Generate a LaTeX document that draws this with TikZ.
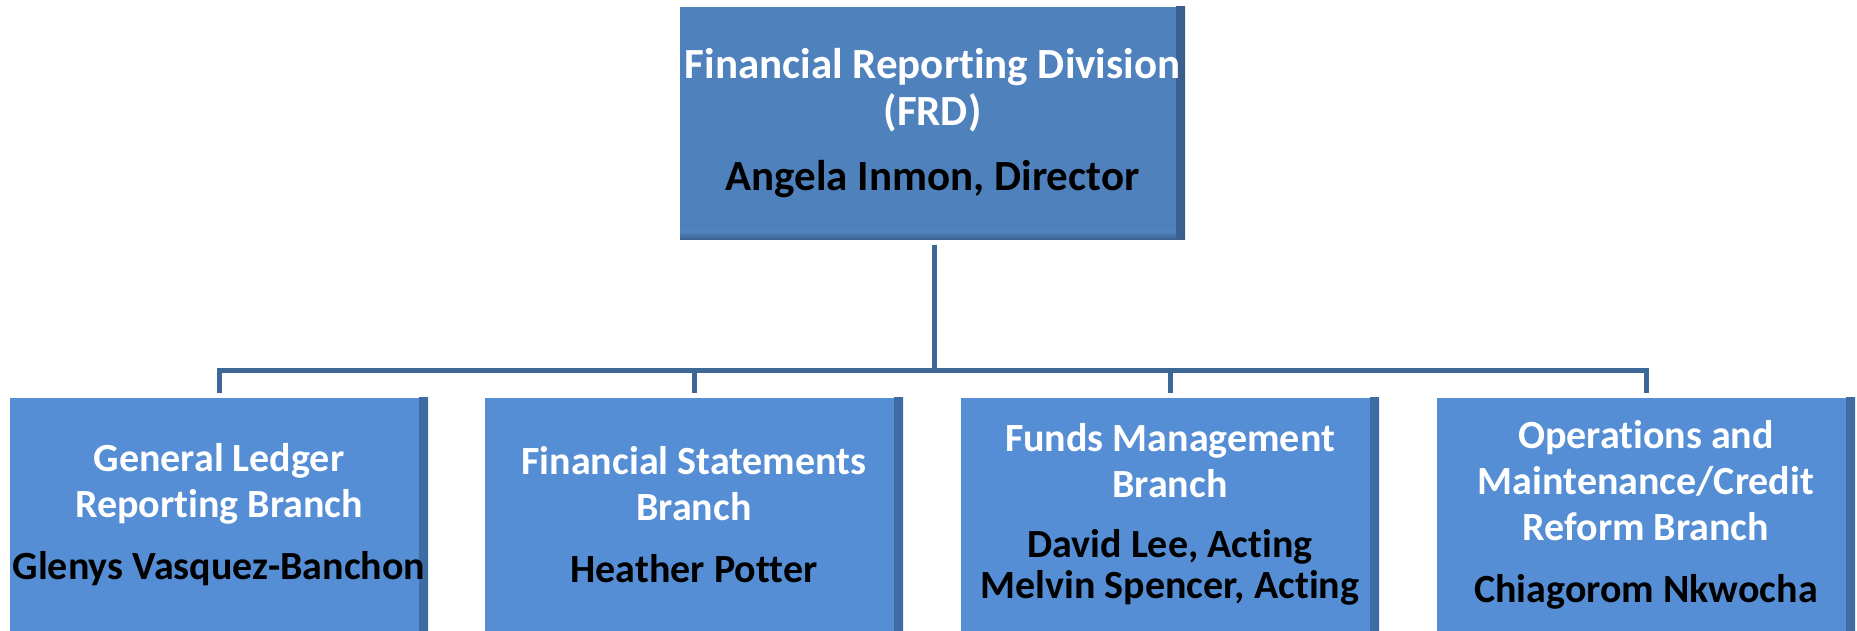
\documentclass[tikz,border=0pt]{standalone}
\usepackage{fontspec}
\setmainfont{Carlito}[RawFeature={-liga;-clig;-dlig;-calt}]
\definecolor{topfill}{HTML}{4F81BD}
\definecolor{topdark}{HTML}{3A5F8E}
\definecolor{boxfill}{HTML}{558ED5}
\definecolor{boxdark}{HTML}{3E6BA3}
\definecolor{linecol}{HTML}{3D6797}
\begin{document}
\begin{tikzpicture}[x=1pt,y=1pt,
  orgbox/.style={rectangle, inner sep=0pt, outer sep=0pt, draw=none,
    minimum height=233pt, align=center, text=white},
  topbox/.style={orgbox, fill=topfill, minimum width=505pt,
    font=\fontsize{43}{47}\selectfont\bfseries,
    path picture={
      \shade[left color=topfill, right color=topdark]
        ([xshift=-9pt]path picture bounding box.north east) rectangle (path picture bounding box.south east);
      \shade[top color=topfill, bottom color=topdark]
        ([yshift=8pt]path picture bounding box.south west) rectangle ([xshift=-9pt]path picture bounding box.south east);}},
  branch/.style={orgbox, fill=boxfill, minimum width=418pt,
    font=\fontsize{40}{46}\selectfont\bfseries,
    path picture={
      \shade[left color=boxfill, right color=boxdark]
        ([xshift=-9pt]path picture bounding box.north east) rectangle (path picture bounding box.south east);}},
  conn/.style={draw=linecol, line width=5pt, line join=miter}]
\useasboundingbox (0,0) rectangle (1857,631);

\node[topbox] (top) at (932.5,507.5)
  {Financial Reporting Division\\(FRD)\\[18pt]\textcolor{black}{Angela Inmon, Director}};

\node[branch] (b1) at (219,116.5)
  {General Ledger\\Reporting Branch\\[16pt]\textcolor{black}{Glenys Vasquez-Banchon}};
\node[branch] (b2) at (694,116.5)
  {Financial Statements\\Branch\\[16pt]\textcolor{black}{Heather Potter}};
\node[branch] (b3) at (1170,116.5)
  {Funds Management\\Branch\\[14pt]\textcolor{black}{David Lee, Acting}\\[-5pt]\textcolor{black}{Melvin Spencer, Acting}};
\node[branch] (b4) at (1646,116.5)
  {Operations and\\Maintenance/Credit\\Reform Branch\\[16pt]\textcolor{black}{Chiagorom Nkwocha}};

\coordinate (bus) at (934,260);
\draw[conn] ([xshift=1.5pt,yshift=-5pt]top.south) -- (bus);
\draw[conn] ([yshift=5pt]b1.north) |- (bus) -| ([yshift=5pt]b4.north);
\draw[conn] ([yshift=5pt]b2.north) -- (b2.north |- bus);
\draw[conn] ([yshift=5pt]b3.north) -- (b3.north |- bus);
\end{tikzpicture}
\end{document}
